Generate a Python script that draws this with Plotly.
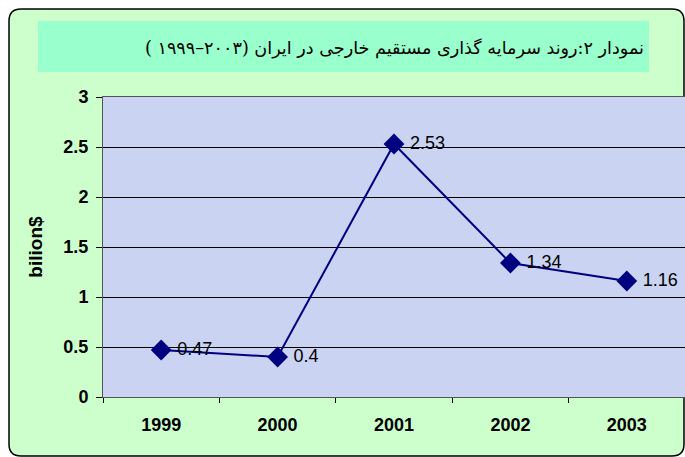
import plotly.graph_objects as go

years = ["1999", "2000", "2001", "2002", "2003"]
values = [0.47, 0.4, 2.53, 1.34, 1.16]
value_labels = ["0.47", "0.4", "2.53", "1.34", "1.16"]
y_ticks = [0, 0.5, 1, 1.5, 2, 2.5, 3]
y_tick_labels = ["0", "0.5", "1", "1.5", "2", "2.5", "3"]
title_text = "نمودار ۲:روند سرمایه گذاری مستقیم خارجی در ایران (۲۰۰۳–۱۹۹۹ )"
y_title = "bilion$"

W, H = 685, 457
L, R, T, B = 103, 685, 97, 397


def px(x):
    return (x - L) / (R - L)


def py(y):
    return (B - y) / (B - T)


def rpx(v):
    return v / (R - L)


def rpy(v):
    return v / (B - T)


fig = go.Figure()
fig.add_trace(go.Scatter(
    x=years, y=values, mode="lines+markers+text",
    text=[" " + t for t in value_labels], textposition="middle right",
    textfont=dict(family="Liberation Sans, Arial", size=18, color="black"),
    line=dict(color="#000080", width=2),
    marker=dict(symbol="diamond", size=16, color="#000080"),
    cliponaxis=False,
))

x0, x1, y0, y1, r = px(9), px(684), py(9), py(456), 12
path = (f"M {x0 + rpx(r)},{y0} L {x1 - rpx(r)},{y0} Q {x1},{y0} {x1},{y0 - rpy(r)} "
        f"L {x1},{y1 + rpy(r)} Q {x1},{y1} {x1 - rpx(r)},{y1} "
        f"L {x0 + rpx(r)},{y1} Q {x0},{y1} {x0},{y1 + rpy(r)} "
        f"L {x0},{y0 - rpy(r)} Q {x0},{y0} {x0 + rpx(r)},{y0} Z")

fig.update_layout(
    width=W, height=H,
    margin=dict(l=L, r=W - R, t=T, b=H - B, pad=0),
    paper_bgcolor="white",
    plot_bgcolor="#CAD3F2",
    showlegend=False,
    shapes=[
        dict(type="path", xref="paper", yref="paper", path=path,
             fillcolor="#CCFFCC", line=dict(color="black", width=1.5), layer="below"),
        dict(type="rect", xref="paper", yref="paper",
             x0=px(38), x1=px(649), y0=py(21), y1=py(72),
             fillcolor="#99FFCC", line=dict(width=0), layer="below"),
        dict(type="rect", xref="paper", yref="paper",
             x0=0, x1=1, y0=0, y1=1,
             fillcolor="#CAD3F2", line=dict(width=0), layer="below"),
    ],
    annotations=[
        dict(text=title_text, xref="paper", yref="paper", x=px(646), y=py(48),
             xanchor="right", yanchor="middle", showarrow=False,
             font=dict(family="DejaVu Serif, DejaVu Sans", size=17.6, color="black")),
    ],
    xaxis=dict(
        type="category", range=[-0.5, 4.5],
        tickson="boundaries", ticks="outside", ticklen=5, tickcolor="black",
        showline=True, linecolor="#555555", linewidth=1, mirror=True,
        showgrid=False,
        tickfont=dict(family="Liberation Sans, Arial", size=18, color="black", weight="bold"),
        ticklabelstandoff=11,
    ),
    yaxis=dict(
        range=[0, 3], tickvals=y_ticks, ticktext=y_tick_labels,
        ticks="outside", ticklen=6, tickcolor="black",
        showline=True, linecolor="#555555", linewidth=1, mirror=True,
        showgrid=True, gridcolor="black", gridwidth=1,
        zeroline=False,
        tickfont=dict(family="Liberation Sans, Arial", size=18, color="black", weight="bold"),
        ticklabelstandoff=4,
        title=dict(text=y_title, standoff=15,
                   font=dict(family="Liberation Sans, Arial", size=19, color="black", weight="bold")),
    ),
)

fig.write_html(
    "out.html",
    config={"displayModeBar": False},
    post_script="document.body.style.margin='0';document.body.style.overflow='hidden';",
)
